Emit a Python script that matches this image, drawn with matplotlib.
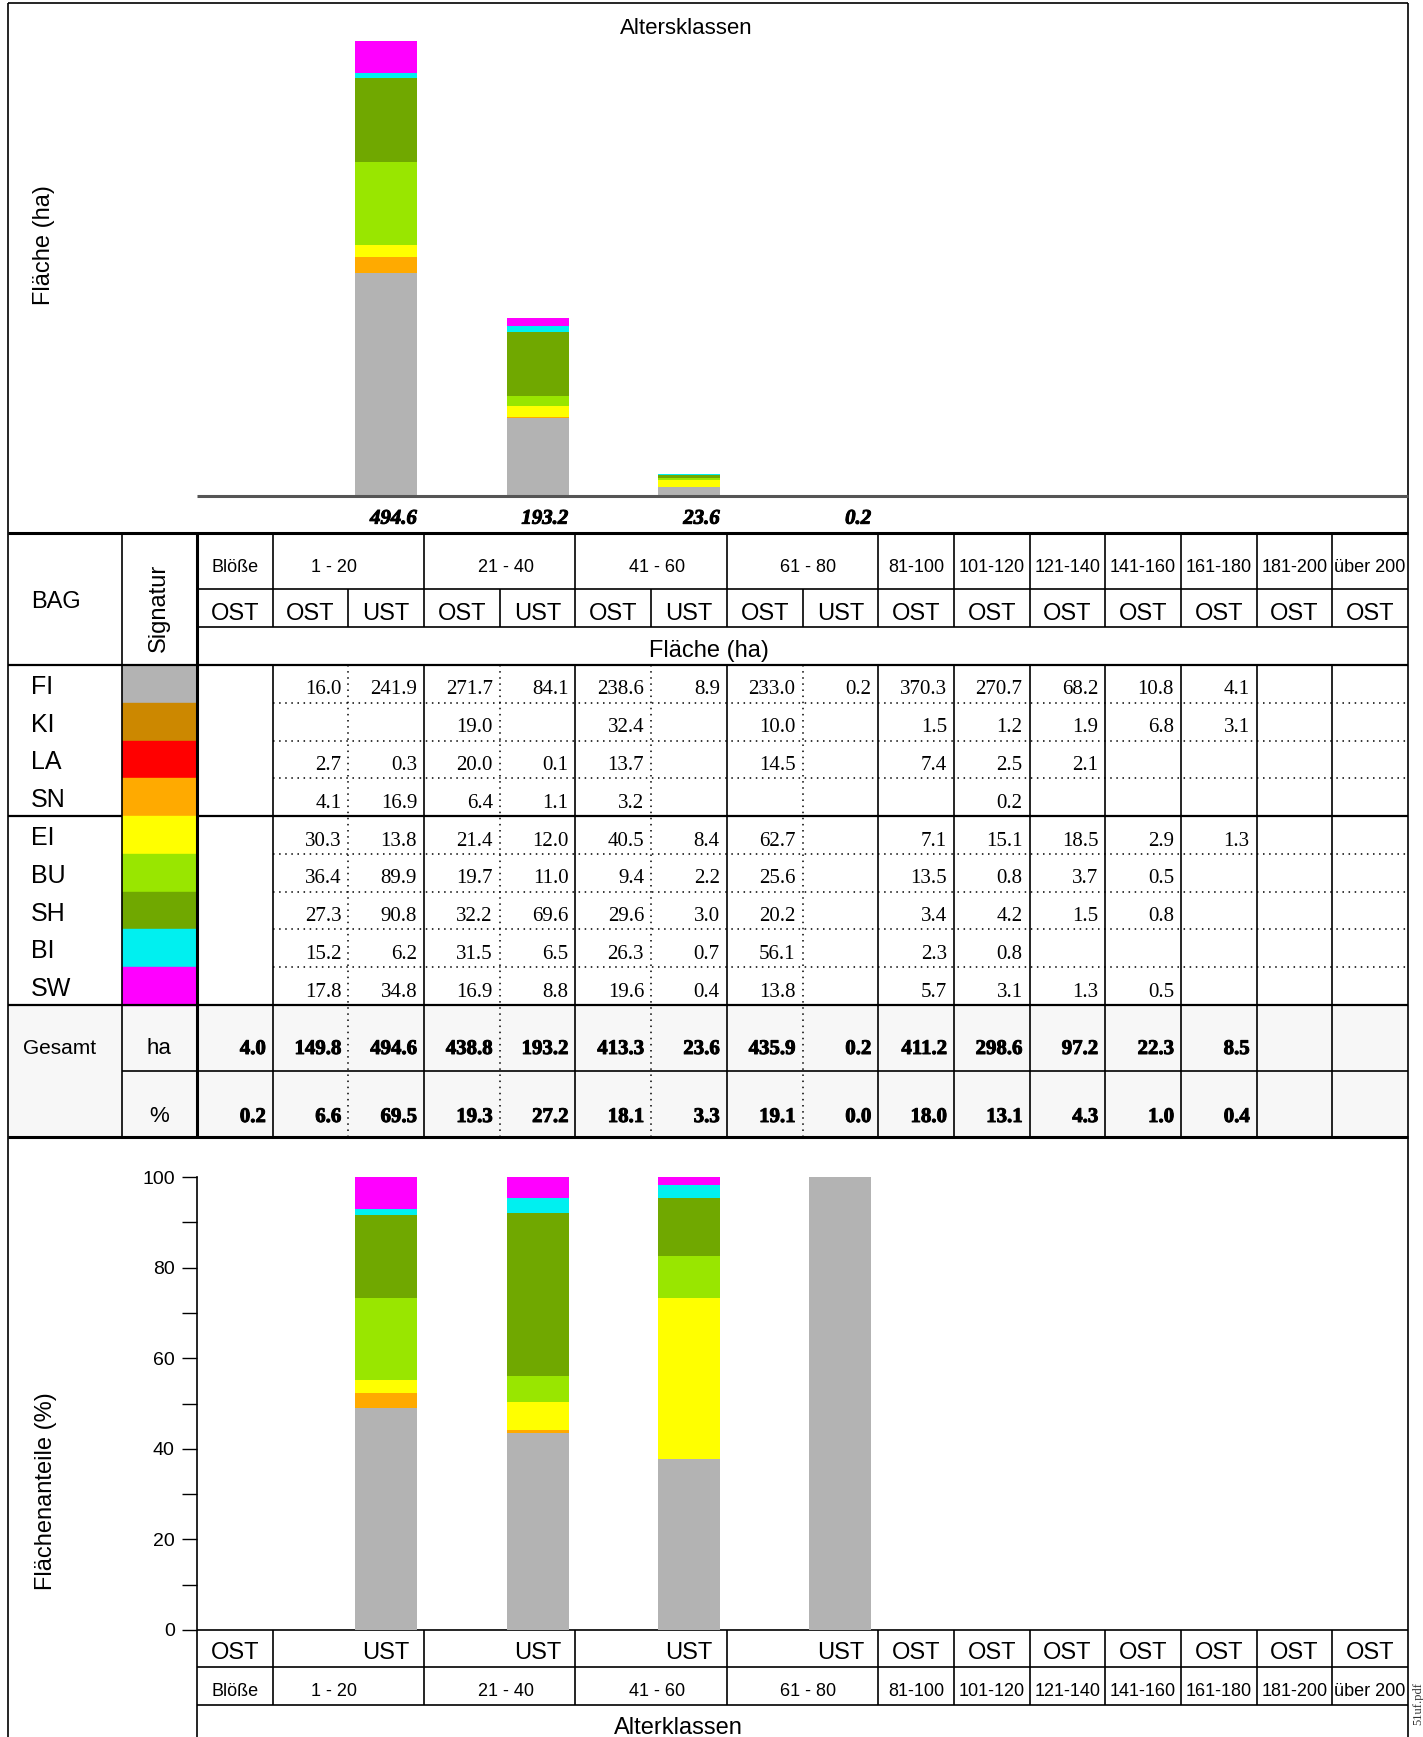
import matplotlib.pyplot as plt
from matplotlib.patches import Rectangle
from matplotlib.transforms import blended_transform_factory
import matplotlib.patheffects as pe
import numpy as np

plt.rcParams['font.family'] = ['Liberation Sans', 'DejaVu Sans']

W, H = 1423, 1737

# --- data ---
age_classes = ["Blöße", "1 - 20", "21 - 40", "41 - 60", "61 - 80", "81-100", "101-120",
               "121-140", "141-160", "161-180", "181-200", "über 200"]
class_layers = [["OST"], ["OST", "UST"], ["OST", "UST"], ["OST", "UST"], ["OST", "UST"],
                ["OST"], ["OST"], ["OST"], ["OST"], ["OST"], ["OST"], ["OST"]]

species = ["FI", "KI", "LA", "SN", "EI", "BU", "SH", "BI", "SW"]
species_colors = ["#b3b3b3", "#cc8800", "#ff0000", "#ffaa00", "#ffff00",
                  "#99e600", "#70a800", "#00f0f0", "#ff00ff"]

# Fläche (ha) per column: Blöße OST, 1-20 OST, 1-20 UST, 21-40 OST, 21-40 UST,
# 41-60 OST, 41-60 UST, 61-80 OST, 61-80 UST, 81-100 ... über 200 (OST)
fi = [None, 16.0, 241.9, 271.7, 84.1, 238.6, 8.9, 233.0, 0.2, 370.3, 270.7, 68.2, 10.8, 4.1, None, None]
ki = [None, None, None, 19.0, None, 32.4, None, 10.0, None, 1.5, 1.2, 1.9, 6.8, 3.1, None, None]
la = [None, 2.7, 0.3, 20.0, 0.1, 13.7, None, 14.5, None, 7.4, 2.5, 2.1, None, None, None, None]
sn = [None, 4.1, 16.9, 6.4, 1.1, 3.2, None, None, None, None, 0.2, None, None, None, None, None]
ei = [None, 30.3, 13.8, 21.4, 12.0, 40.5, 8.4, 62.7, None, 7.1, 15.1, 18.5, 2.9, 1.3, None, None]
bu = [None, 36.4, 89.9, 19.7, 11.0, 9.4, 2.2, 25.6, None, 13.5, 0.8, 3.7, 0.5, None, None, None]
sh = [None, 27.3, 90.8, 32.2, 69.6, 29.6, 3.0, 20.2, None, 3.4, 4.2, 1.5, 0.8, None, None, None]
bi = [None, 15.2, 6.2, 31.5, 6.5, 26.3, 0.7, 56.1, None, 2.3, 0.8, None, None, None, None, None]
sw = [None, 17.8, 34.8, 16.9, 8.8, 19.6, 0.4, 13.8, None, 5.7, 3.1, 1.3, 0.5, None, None, None]

total_ha = [4.0, 149.8, 494.6, 438.8, 193.2, 413.3, 23.6, 435.9, 0.2, 411.2, 298.6, 97.2, 22.3, 8.5, None, None]
total_pct = [0.2, 6.6, 69.5, 19.3, 27.2, 18.1, 3.3, 19.1, 0.0, 18.0, 13.1, 4.3, 1.0, 0.4, None, None]

vals = np.array([[np.nan if v is None else v for v in row]
                 for row in [fi, ki, la, sn, ei, bu, sh, bi, sw]])

# columns
cols = []
class_start = []
for ci, ls in enumerate(class_layers):
    class_start.append(len(cols))
    for lay in ls:
        cols.append((ci, lay))
N = len(cols)
ust = [i for i, (ci, lay) in enumerate(cols) if lay == "UST"]

# layout (pixels)
FL, FR, FT = 8, 1408, 3
X0, X1 = 197, 1408
CW = (X1 - X0) / N
XB = 122
TAB_TOP, HDR1, HDR2, HDR3 = 533, 589, 627, 665
RH = (1005 - 665) / 9
GES, GES_MID, TAB_BOT = 1005, 1071, 1137
P_TOP, P_BOT, B1, B2 = 1177, 1630, 1667, 1705
name_shift = [0, -14, 6, 6, 6, 0, 0, 0, 0, 0, 0, 0]

serif = 'Liberation Serif'
heavy = [pe.withStroke(linewidth=0.7, foreground='black')]


def cx(i):
    return X0 + (i + 0.5) * CW


def cl(i):
    return X0 + i * CW


def class_x(ci):
    n = len(class_layers[ci])
    return X0 + (class_start[ci] + n / 2) * CW + name_shift[ci]


fig = plt.figure(figsize=(W / 100, H / 100), dpi=100)
tab = fig.add_axes([0, 0, 1, 1])
tab.set_xlim(0, W)
tab.set_ylim(H, 0)
tab.axis('off')


def hl(y, xa, xb, lw=1.2, ls='-', c='black'):
    tab.plot([xa, xb], [y, y], color=c, lw=lw, ls=ls, solid_capstyle='butt')


def vl(x, ya, yb, lw=1.2, ls='-', c='black'):
    tab.plot([x, x], [ya, yb], color=c, lw=lw, ls=ls, solid_capstyle='butt')


dots = (0, (1, 3))

# Gesamt background
tab.add_patch(Rectangle((FL, GES), FR - FL, TAB_BOT - GES, color='#f7f7f7', zorder=0))

# outer frame
vl(FL, FT, H)
vl(FR, FT, H)
hl(FT, FL, FR)

# --- top chart ---
tab.text(686, 28, "Altersklassen", ha='center', va='center', fontsize=16)
tab.text(44, 245, "Fläche (ha)", ha='center', va='center', rotation=90, fontsize=17)

ax_top = fig.add_axes([X0 / W, 1 - 495.5 / H, (X1 - X0) / W, (495.5 - 40.7) / H])
ax_top.set_xlim(0, N)
ax_top.set_ylim(0, max(total_ha[i] for i in ust))
ax_top.patch.set_alpha(0)
bottom = np.zeros(len(ust))
for s in range(len(species)):
    h = np.nan_to_num(vals[s, ust])
    ax_top.bar(np.array(ust) + 0.5, h, width=0.82, bottom=bottom,
               color=species_colors[s], linewidth=0)
    bottom += h
for sp in ['top', 'right', 'left']:
    ax_top.spines[sp].set_visible(False)
ax_top.spines['bottom'].set_color('#555555')
ax_top.spines['bottom'].set_linewidth(2.2)
ax_top.spines['bottom'].set_capstyle('butt')
ax_top.set_xticks([])
ax_top.set_yticks([])
tr = blended_transform_factory(ax_top.transData, ax_top.transAxes)
for i in ust:
    ax_top.text(i + 0.5 + 0.41, -0.051, f"{total_ha[i]:.1f}", transform=tr,
                ha='right', va='center', fontfamily=serif, fontweight='bold',
                fontstyle='italic', fontsize=15, clip_on=False, path_effects=heavy)

# --- table ---
hl(TAB_TOP, FL, FR, lw=2.2)
hl(HDR1, X0, X1)
hl(HDR2, X0, X1)
hl(HDR3, FL, FR, lw=1.6)
hl(GES, FL, FR, lw=1.6)
hl(GES_MID, XB, FR)
hl(TAB_BOT, FL, FR, lw=2.2)
vl(XB, TAB_TOP, TAB_BOT)
vl(X0, TAB_TOP, TAB_BOT, lw=2.2)

class_bounds = [class_start[ci] for ci in range(1, len(age_classes))]
for b in class_bounds:
    vl(cl(b), TAB_TOP, HDR2)
    vl(cl(b), HDR3, TAB_BOT)
for i in ust:
    vl(cl(i), HDR1, HDR2)
    vl(cl(i), HDR3, TAB_BOT, lw=1.1, ls=dots)

tab.text(31, 602, "BAG", ha='left', va='center', fontsize=17)
tab.text(159, 608, "Signatur", ha='center', va='center', rotation=90, fontsize=17)
for ci, name in enumerate(age_classes):
    tab.text(class_x(ci), 567, name, ha='center', va='center', fontsize=13)
for i, (ci, lay) in enumerate(cols):
    tab.text(cx(i), 614, lay, ha='center', va='center', fontsize=17)
tab.text(709, 651, "Fläche (ha)", ha='center', va='center', fontsize=17)

group_break = 4
for s, name in enumerate(species):
    y0 = HDR3 + s * RH
    yc = y0 + RH / 2
    tab.add_patch(Rectangle((XB, y0), X0 - XB, RH, color=species_colors[s], zorder=1))
    tab.text(31, yc + 3, name, ha='left', va='center', fontsize=18)
    if s > 0:
        if s == group_break:
            hl(y0, FL, XB, lw=1.6)
            hl(y0, X0, X1, lw=1.6)
        else:
            hl(y0, cl(1), X1, lw=1.1, ls=dots)
    for i in range(N):
        v = vals[s, i]
        if not np.isnan(v):
            tab.text(cl(i + 1) - 7, yc + 6, f"{v:.1f}", ha='right', va='center',
                     fontfamily=serif, fontsize=15)

tab.text(23, 1048, "Gesamt", ha='left', va='center', fontsize=15)
tab.text(159, 1049, "ha", ha='center', va='center', fontsize=16)
tab.text(159, 1116, "%", ha='center', va='center', fontsize=16)
for i in range(N):
    if total_ha[i] is not None:
        tab.text(cl(i + 1) - 7, 1049, f"{total_ha[i]:.1f}", ha='right', va='center',
                 fontfamily=serif, fontweight='bold', fontsize=15, path_effects=heavy)
    if total_pct[i] is not None:
        tab.text(cl(i + 1) - 7, 1117, f"{total_pct[i]:.1f}", ha='right', va='center',
                 fontfamily=serif, fontweight='bold', fontsize=15, path_effects=heavy)

# --- percent chart ---
ax_pct = fig.add_axes([X0 / W, 1 - P_BOT / H, (X1 - X0) / W, (P_BOT - P_TOP) / H])
ax_pct.set_xlim(0, N)
ax_pct.set_ylim(0, 100)
ax_pct.patch.set_alpha(0)
col_tot = np.nansum(vals[:, ust], axis=0)
bottom = np.zeros(len(ust))
for s in range(len(species)):
    p = np.nan_to_num(vals[s, ust]) / col_tot * 100
    ax_pct.bar(np.array(ust) + 0.5, p, width=0.82, bottom=bottom,
               color=species_colors[s], linewidth=0)
    bottom += p
for sp in ['top', 'right', 'bottom']:
    ax_pct.spines[sp].set_visible(False)
ax_pct.spines['left'].set_linewidth(1.2)
ax_pct.set_xticks([])
ax_pct.set_yticks(range(0, 101, 10))
ax_pct.set_yticklabels([str(v) if v % 20 == 0 else '' for v in range(0, 101, 10)])
ax_pct.tick_params(axis='y', length=11, width=1, pad=5, labelsize=14)
tab.text(46, 1491, "Flächenanteile (%)", ha='center', va='center', rotation=90, fontsize=17)

# bottom table
hl(P_BOT, X0, X1)
hl(B1, X0, X1)
hl(B2, X0, X1)
vl(X0, P_BOT, H)
for b in class_bounds:
    vl(cl(b), P_BOT, B2)
for i, (ci, lay) in enumerate(cols):
    if lay == "OST" and len(class_layers[ci]) > 1:
        continue
    tab.text(cx(i), 1653, lay, ha='center', va='center', fontsize=17)
for ci, name in enumerate(age_classes):
    tab.text(class_x(ci), 1692, name, ha='center', va='center', fontsize=13)
tab.text(678, 1728, "Alterklassen", ha='center', va='center', fontsize=17)

tab.text(1418, 1682, "51uf.pdf", ha='center', va='top', rotation=90,
         fontfamily=serif, fontsize=9, color='#333333')

fig.savefig("out.png", dpi=100)
